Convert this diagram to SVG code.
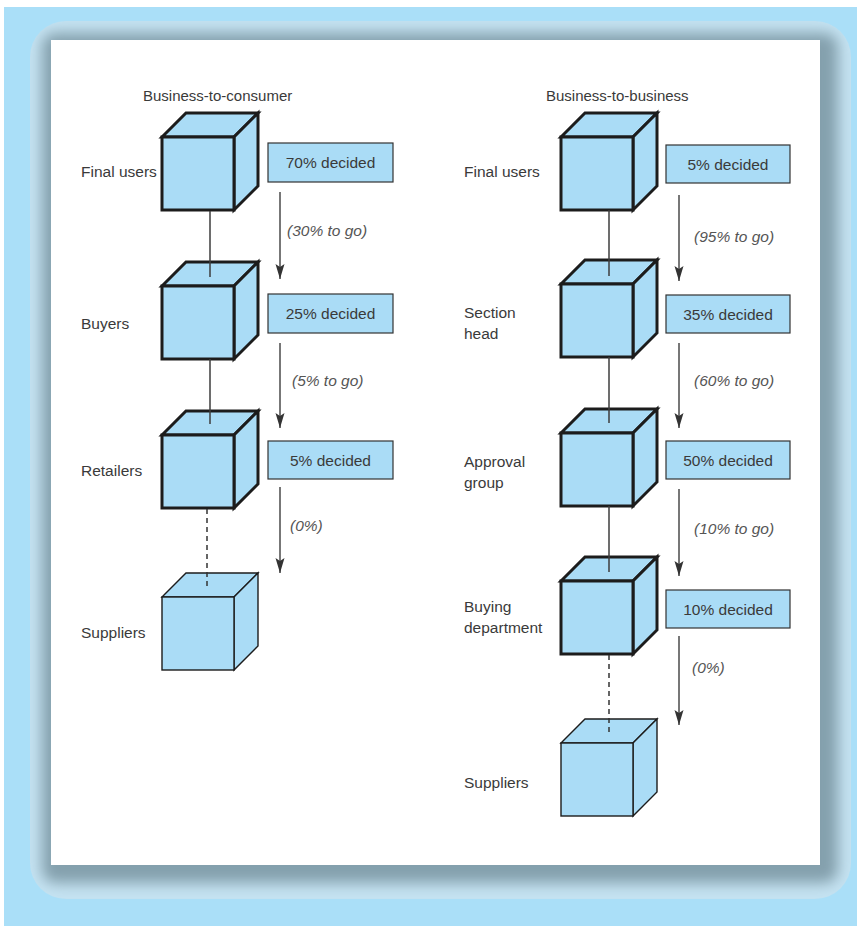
<svg xmlns="http://www.w3.org/2000/svg" xmlns:xlink="http://www.w3.org/1999/xlink" width="857" height="926" viewBox="0 0 857 926">
<style>
.lbl{font-family:"Liberation Sans",Arial,sans-serif;font-size:15.5px;fill:#3a3a3a}
.ttl{font-family:"Liberation Sans",Arial,sans-serif;font-size:15px;fill:#3a3a3a}
.pct{font-family:"Liberation Sans",Arial,sans-serif;font-size:15.5px;fill:#3a3a3a;text-anchor:middle}
.go{font-family:"Liberation Sans",Arial,sans-serif;font-size:15.5px;font-style:italic;fill:#555}
.box{fill:#aadcf6;stroke:#333;stroke-width:1.2}
.cube{fill:#aadcf6;stroke:#1c1c1c;stroke-linejoin:miter}
.bold{stroke-width:3}
.thin{stroke-width:1.4}
.conn{stroke:#3c3c3c;stroke-width:1.5;fill:none}
.dash{stroke:#333;stroke-width:1.5;stroke-dasharray:5,4;fill:none}
.arr{stroke:#4a4a4a;stroke-width:1.5;fill:none;marker-end:url(#ah)}
</style>
<defs>
<marker id="ah" markerUnits="userSpaceOnUse" viewBox="0 -6 16 12" refX="15" refY="0" markerWidth="16" markerHeight="12" orient="auto">
<path d="M0,-4.5 L15,0 L0,4.5 L3,0 z" fill="#333"/>
</marker>
<g id="cube">
<path d="M0,0 L24,-24 L96,-24 L72,0 Z"/>
<path d="M72,0 L96,-24 L96,49 L72,73 Z"/>
<rect x="0" y="0" width="72" height="73"/>
</g>
<clipPath id="fc"><rect x="30" y="21" width="821" height="878" rx="36"/></clipPath>
<filter id="bl" x="-10%" y="-10%" width="120%" height="120%"><feGaussianBlur stdDeviation="7"/></filter>
</defs>
<rect x="0" y="0" width="857" height="926" fill="#fff"/>
<rect x="4" y="7" width="853" height="919" fill="#aadff8"/>
<g clip-path="url(#fc)">
<rect x="30" y="21" width="821" height="878" fill="#c4e2f1"/>
<rect x="42" y="33" width="796" height="850" rx="14" fill="#84a0ad" filter="url(#bl)"/>
</g>
<rect x="51" y="40" width="769" height="825" fill="#fff"/>

<text class="ttl" x="143" y="101">Business-to-consumer</text>
<text class="ttl" x="546" y="101">Business-to-business</text>

<g id="b2c-final-users">
<use xlink:href="#cube" href="#cube" class="cube bold" transform="translate(162,137)"/>
<text class="lbl" x="81" y="176.5">Final users</text>
<rect class="box" x="268" y="143" width="125" height="39"/>
<text class="pct" x="330.5" y="168">70% decided</text>
</g>
<g id="b2c-buyers">
<use xlink:href="#cube" href="#cube" class="cube bold" transform="translate(162,286)"/>
<text class="lbl" x="81" y="329">Buyers</text>
<rect class="box" x="268" y="294" width="125" height="39"/>
<text class="pct" x="330.5" y="319">25% decided</text>
</g>
<g id="b2c-retailers">
<use xlink:href="#cube" href="#cube" class="cube bold" transform="translate(162,435)"/>
<text class="lbl" x="81" y="475.5">Retailers</text>
<rect class="box" x="268" y="441" width="125" height="38"/>
<text class="pct" x="330.5" y="465.5">5% decided</text>
</g>
<g id="b2c-suppliers">
<use xlink:href="#cube" href="#cube" class="cube thin" transform="translate(162,597)"/>
<text class="lbl" x="81" y="637.5">Suppliers</text>
</g>

<g id="b2b-final-users">
<use xlink:href="#cube" href="#cube" class="cube bold" transform="translate(561,137)"/>
<text class="lbl" x="464" y="176.5">Final users</text>
<rect class="box" x="666" y="145" width="124" height="38"/>
<text class="pct" x="728" y="169.5">5% decided</text>
</g>
<g id="b2b-section-head">
<use xlink:href="#cube" href="#cube" class="cube bold" transform="translate(561,284)"/>
<text class="lbl" x="464" y="318">Section</text>
<text class="lbl" x="464" y="339">head</text>
<rect class="box" x="666" y="295" width="124" height="38"/>
<text class="pct" x="728" y="319.5">35% decided</text>
</g>
<g id="b2b-approval-group">
<use xlink:href="#cube" href="#cube" class="cube bold" transform="translate(561,433)"/>
<text class="lbl" x="464" y="467">Approval</text>
<text class="lbl" x="464" y="488">group</text>
<rect class="box" x="666" y="441" width="124" height="38"/>
<text class="pct" x="728" y="465.5">50% decided</text>
</g>
<g id="b2b-buying-department">
<use xlink:href="#cube" href="#cube" class="cube bold" transform="translate(561,581)"/>
<text class="lbl" x="464" y="612">Buying</text>
<text class="lbl" x="464" y="633">department</text>
<rect class="box" x="666" y="590" width="124" height="38"/>
<text class="pct" x="728" y="614.5">10% decided</text>
</g>
<g id="b2b-suppliers">
<use xlink:href="#cube" href="#cube" class="cube thin" transform="translate(561,743)"/>
<text class="lbl" x="464" y="787.5">Suppliers</text>
</g>

<g id="connectors">
<line class="conn" x1="210" y1="211" x2="210" y2="277"/>
<line class="conn" x1="210" y1="359" x2="210" y2="424"/>
<line class="dash" x1="207" y1="509" x2="207" y2="587"/>
<line class="conn" x1="609" y1="210" x2="609" y2="276"/>
<line class="conn" x1="609" y1="357" x2="609" y2="423"/>
<line class="conn" x1="609" y1="506" x2="609" y2="572"/>
<line class="dash" x1="609" y1="655" x2="609" y2="732"/>

<line class="arr" x1="280" y1="192" x2="280" y2="279"/>
<line class="arr" x1="280" y1="343" x2="280" y2="428"/>
<line class="arr" x1="280" y1="487" x2="280" y2="573"/>
<line class="arr" x1="679" y1="195" x2="679" y2="281"/>
<line class="arr" x1="679" y1="343" x2="679" y2="428"/>
<line class="arr" x1="679" y1="489" x2="679" y2="576"/>
<line class="arr" x1="679" y1="636" x2="679" y2="725"/>

<text class="go" x="287" y="236">(30% to go)</text>
<text class="go" x="292" y="386">(5% to go)</text>
<text class="go" x="290" y="531">(0%)</text>
<text class="go" x="694" y="242">(95% to go)</text>
<text class="go" x="694" y="386">(60% to go)</text>
<text class="go" x="694" y="534">(10% to go)</text>
<text class="go" x="692" y="673">(0%)</text>
</g>
</svg>
